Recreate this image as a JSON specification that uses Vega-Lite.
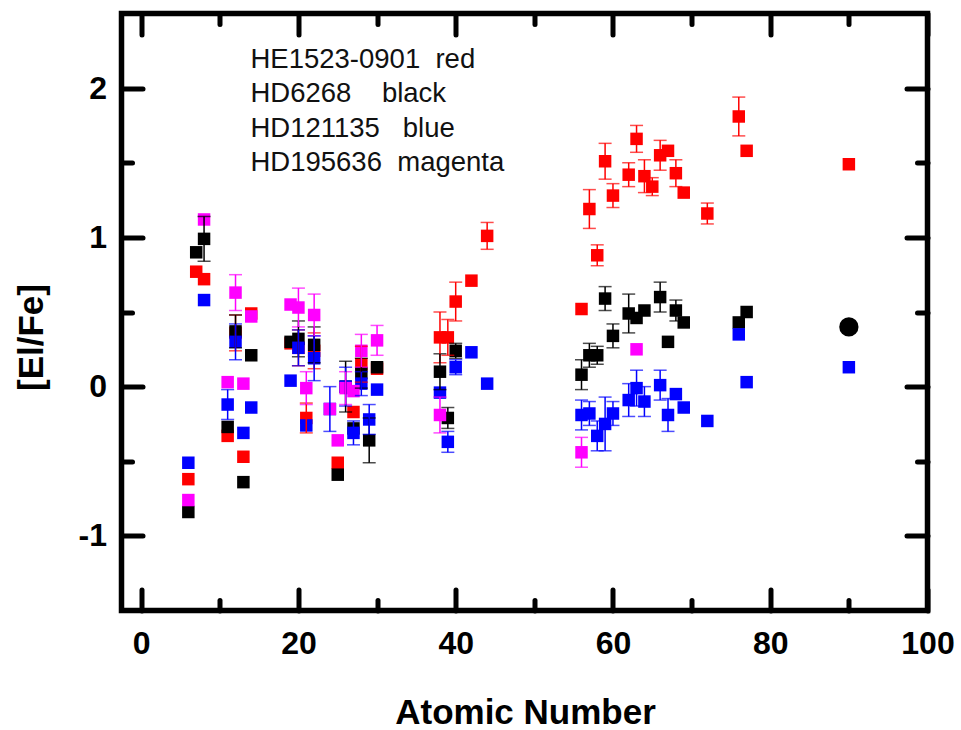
{
  "$schema": "https://vega.github.io/schema/vega-lite/v6.json",
  "autosize": {"type": "none"},
  "padding": {"left": 121.5, "top": 13.5, "right": 33.5, "bottom": 119.5},
  "width": 806,
  "height": 597,
  "config": {
    "view": {"stroke": "#000000", "strokeWidth": 5.5},
    "font": "Liberation Sans"
  },
  "datasets": {
    "abund": [
      {"star": "HE1523-0901", "z": 6, "v": -0.62},
      {"star": "HE1523-0901", "z": 7, "v": 0.77},
      {"star": "HE1523-0901", "z": 8, "v": 0.72},
      {"star": "HE1523-0901", "z": 11, "v": -0.33},
      {"star": "HE1523-0901", "z": 12, "v": 0.36, "e": 0.12},
      {"star": "HE1523-0901", "z": 13, "v": -0.47},
      {"star": "HE1523-0901", "z": 14, "v": 0.49},
      {"star": "HE1523-0901", "z": 19, "v": 0.29},
      {"star": "HE1523-0901", "z": 20, "v": 0.26, "e": 0.12},
      {"star": "HE1523-0901", "z": 21, "v": -0.21, "e": 0.1},
      {"star": "HE1523-0901", "z": 22, "v": 0.24, "e": 0.12},
      {"star": "HE1523-0901", "z": 25, "v": -0.51},
      {"star": "HE1523-0901", "z": 27, "v": -0.17},
      {"star": "HE1523-0901", "z": 28, "v": 0.15, "e": 0.12},
      {"star": "HE1523-0901", "z": 30, "v": 0.12},
      {"star": "HE1523-0901", "z": 38, "v": 0.33, "e": 0.17},
      {"star": "HE1523-0901", "z": 39, "v": 0.33, "e": 0.12},
      {"star": "HE1523-0901", "z": 40, "v": 0.57, "e": 0.13},
      {"star": "HE1523-0901", "z": 42, "v": 0.71},
      {"star": "HE1523-0901", "z": 44, "v": 1.01, "e": 0.09},
      {"star": "HE1523-0901", "z": 56, "v": 0.52},
      {"star": "HE1523-0901", "z": 57, "v": 1.19, "e": 0.13},
      {"star": "HE1523-0901", "z": 58, "v": 0.88, "e": 0.07},
      {"star": "HE1523-0901", "z": 59, "v": 1.51, "e": 0.12},
      {"star": "HE1523-0901", "z": 60, "v": 1.28, "e": 0.08},
      {"star": "HE1523-0901", "z": 62, "v": 1.42, "e": 0.08},
      {"star": "HE1523-0901", "z": 63, "v": 1.66, "e": 0.09},
      {"star": "HE1523-0901", "z": 64, "v": 1.41, "e": 0.11},
      {"star": "HE1523-0901", "z": 65, "v": 1.34, "e": 0.06},
      {"star": "HE1523-0901", "z": 66, "v": 1.55, "e": 0.1},
      {"star": "HE1523-0901", "z": 67, "v": 1.58},
      {"star": "HE1523-0901", "z": 68, "v": 1.43, "e": 0.09},
      {"star": "HE1523-0901", "z": 69, "v": 1.3},
      {"star": "HE1523-0901", "z": 72, "v": 1.16, "e": 0.07},
      {"star": "HE1523-0901", "z": 76, "v": 1.81, "e": 0.13},
      {"star": "HE1523-0901", "z": 77, "v": 1.58},
      {"star": "HE1523-0901", "z": 90, "v": 1.49},
      {"star": "HD6268", "z": 6, "v": -0.84},
      {"star": "HD6268", "z": 7, "v": 0.9},
      {"star": "HD6268", "z": 8, "v": 0.99, "e": 0.15},
      {"star": "HD6268", "z": 11, "v": -0.27},
      {"star": "HD6268", "z": 12, "v": 0.37, "e": 0.11},
      {"star": "HD6268", "z": 13, "v": -0.64},
      {"star": "HD6268", "z": 14, "v": 0.21},
      {"star": "HD6268", "z": 19, "v": 0.3},
      {"star": "HD6268", "z": 20, "v": 0.32, "e": 0.12},
      {"star": "HD6268", "z": 22, "v": 0.28, "e": 0.12},
      {"star": "HD6268", "z": 25, "v": -0.59},
      {"star": "HD6268", "z": 26, "v": 0.0, "e": 0.17},
      {"star": "HD6268", "z": 27, "v": -0.28},
      {"star": "HD6268", "z": 28, "v": 0.09, "e": 0.1},
      {"star": "HD6268", "z": 29, "v": -0.36, "e": 0.15},
      {"star": "HD6268", "z": 30, "v": 0.13},
      {"star": "HD6268", "z": 38, "v": 0.1, "e": 0.12},
      {"star": "HD6268", "z": 39, "v": -0.21, "e": 0.07},
      {"star": "HD6268", "z": 40, "v": 0.24, "e": 0.05},
      {"star": "HD6268", "z": 56, "v": 0.08, "e": 0.1},
      {"star": "HD6268", "z": 57, "v": 0.21, "e": 0.08},
      {"star": "HD6268", "z": 58, "v": 0.21, "e": 0.06},
      {"star": "HD6268", "z": 59, "v": 0.59, "e": 0.08},
      {"star": "HD6268", "z": 60, "v": 0.34, "e": 0.08},
      {"star": "HD6268", "z": 62, "v": 0.49, "e": 0.13},
      {"star": "HD6268", "z": 63, "v": 0.46},
      {"star": "HD6268", "z": 64, "v": 0.51},
      {"star": "HD6268", "z": 66, "v": 0.6, "e": 0.1},
      {"star": "HD6268", "z": 67, "v": 0.3},
      {"star": "HD6268", "z": 68, "v": 0.51, "e": 0.07},
      {"star": "HD6268", "z": 69, "v": 0.43},
      {"star": "HD6268", "z": 76, "v": 0.43},
      {"star": "HD6268", "z": 77, "v": 0.5},
      {"star": "HD6268", "z": 90, "v": 0.4},
      {"star": "HD121135", "z": 6, "v": -0.51},
      {"star": "HD121135", "z": 8, "v": 0.58},
      {"star": "HD121135", "z": 11, "v": -0.12, "e": 0.1},
      {"star": "HD121135", "z": 12, "v": 0.3, "e": 0.12},
      {"star": "HD121135", "z": 13, "v": -0.31},
      {"star": "HD121135", "z": 14, "v": -0.14},
      {"star": "HD121135", "z": 19, "v": 0.04},
      {"star": "HD121135", "z": 20, "v": 0.26, "e": 0.12},
      {"star": "HD121135", "z": 21, "v": -0.26},
      {"star": "HD121135", "z": 22, "v": 0.19, "e": 0.15},
      {"star": "HD121135", "z": 24, "v": -0.15, "e": 0.15},
      {"star": "HD121135", "z": 26, "v": 0.0, "e": 0.13},
      {"star": "HD121135", "z": 27, "v": -0.31, "e": 0.08},
      {"star": "HD121135", "z": 28, "v": 0.02, "e": 0.08},
      {"star": "HD121135", "z": 29, "v": -0.22, "e": 0.1},
      {"star": "HD121135", "z": 30, "v": -0.02},
      {"star": "HD121135", "z": 38, "v": -0.04},
      {"star": "HD121135", "z": 39, "v": -0.37, "e": 0.07},
      {"star": "HD121135", "z": 40, "v": 0.13, "e": 0.05},
      {"star": "HD121135", "z": 42, "v": 0.23},
      {"star": "HD121135", "z": 44, "v": 0.02},
      {"star": "HD121135", "z": 56, "v": -0.19, "e": 0.1},
      {"star": "HD121135", "z": 57, "v": -0.18, "e": 0.08},
      {"star": "HD121135", "z": 58, "v": -0.33, "e": 0.1},
      {"star": "HD121135", "z": 59, "v": -0.25, "e": 0.18},
      {"star": "HD121135", "z": 60, "v": -0.18, "e": 0.08},
      {"star": "HD121135", "z": 62, "v": -0.09, "e": 0.11},
      {"star": "HD121135", "z": 63, "v": -0.01, "e": 0.12},
      {"star": "HD121135", "z": 64, "v": -0.1, "e": 0.1},
      {"star": "HD121135", "z": 66, "v": 0.01, "e": 0.1},
      {"star": "HD121135", "z": 67, "v": -0.19, "e": 0.11},
      {"star": "HD121135", "z": 68, "v": -0.05},
      {"star": "HD121135", "z": 69, "v": -0.14},
      {"star": "HD121135", "z": 72, "v": -0.23},
      {"star": "HD121135", "z": 76, "v": 0.35},
      {"star": "HD121135", "z": 77, "v": 0.03},
      {"star": "HD121135", "z": 90, "v": 0.13},
      {"star": "HD195636", "z": 6, "v": -0.76},
      {"star": "HD195636", "z": 8, "v": 1.12},
      {"star": "HD195636", "z": 11, "v": 0.03},
      {"star": "HD195636", "z": 12, "v": 0.63, "e": 0.12},
      {"star": "HD195636", "z": 13, "v": 0.02},
      {"star": "HD195636", "z": 14, "v": 0.47},
      {"star": "HD195636", "z": 19, "v": 0.55},
      {"star": "HD195636", "z": 20, "v": 0.53, "e": 0.13},
      {"star": "HD195636", "z": 21, "v": -0.01, "e": 0.11},
      {"star": "HD195636", "z": 22, "v": 0.48, "e": 0.14},
      {"star": "HD195636", "z": 24, "v": -0.15},
      {"star": "HD195636", "z": 25, "v": -0.36},
      {"star": "HD195636", "z": 26, "v": -0.01, "e": 0.11},
      {"star": "HD195636", "z": 27, "v": -0.03},
      {"star": "HD195636", "z": 28, "v": 0.24, "e": 0.11},
      {"star": "HD195636", "z": 30, "v": 0.31, "e": 0.1},
      {"star": "HD195636", "z": 38, "v": -0.19, "e": 0.12},
      {"star": "HD195636", "z": 56, "v": -0.44, "e": 0.1},
      {"star": "HD195636", "z": 63, "v": 0.25}
    ],
    "notes": [
      {"label": "HE1523-0901\u00a0\u00a0red", "ly": 2.138},
      {"label": "HD6268\u00a0\u00a0\u00a0\u00a0black", "ly": 1.904},
      {"label": "HD121135\u00a0\u00a0\u00a0blue", "ly": 1.675},
      {"label": "HD195636\u00a0\u00a0magenta", "ly": 1.447}
    ]
  },
  "layer": [
    {
      "data": {"name": "abund"},
      "mark": {"type": "point", "filled": true, "opacity": 1, "strokeWidth": 0},
      "encoding": {
        "x": {
          "field": "z", "type": "quantitative",
          "scale": {"domain": [-2.5, 100], "nice": false, "zero": false},
          "axis": {
            "orient": "bottom",
            "values": [0, 10, 20, 30, 40, 50, 60, 70, 80, 90, 100],
            "labelExpr": "datum.value % 20 == 0 ? datum.label : ''",
            "tickSize": {"condition": {"test": "datum.value % 20 == 0", "value": -21}, "value": -10.5},
            "tickWidth": 5, "tickColor": "#000000", "tickCap": "round",
            "domain": false, "grid": false,
            "labelFont": "Liberation Sans", "labelFontWeight": "bold", "labelFontSize": 32,
            "labelColor": "#000000", "labelPadding": 39, "labelBaseline": "top", "labelFlush": false,
            "title": "Atomic Number",
            "titleFont": "Liberation Sans", "titleFontWeight": "bold", "titleFontSize": 35,
            "titleColor": "#000000", "titleBaseline": "alphabetic", "titleAlign": "center",
            "titleX": 403.5, "titleY": 112.5
          }
        },
        "y": {
          "field": "v", "type": "quantitative",
          "scale": {"domain": [-1.5, 2.5], "nice": false, "zero": false},
          "axis": {
            "orient": "left",
            "values": [-1, -0.5, 0, 0.5, 1, 1.5, 2],
            "labelExpr": "datum.value % 1 == 0 ? toString(datum.value) : ''",
            "tickSize": {"condition": {"test": "datum.value % 1 == 0", "value": -21}, "value": -10.5},
            "tickWidth": 5, "tickColor": "#000000", "tickCap": "round",
            "domain": false, "grid": false,
            "labelFont": "Liberation Sans", "labelFontWeight": "bold", "labelFontSize": 32,
            "labelColor": "#000000", "labelPadding": 36, "labelFlush": false,
            "title": "[El/Fe]",
            "titleFont": "Liberation Sans", "titleFontWeight": "bold", "titleFontSize": 35,
            "titleColor": "#000000", "titleAngle": -90, "titleBaseline": "alphabetic", "titleAlign": "center",
            "titleX": -78.8, "titleY": 323.5
          }
        },
        "color": {
          "field": "star", "type": "nominal",
          "scale": {"domain": ["HE1523-0901", "HD6268", "HD121135", "HD195636"], "range": ["#ff0000", "#000000", "#0000ff", "#ff00ff"]},
          "legend": null
        },
        "shape": {"condition": {"test": "datum.z == 90 && datum.star == 'HD6268'", "value": "circle"}, "value": "square"},
        "size": {"condition": {"test": "datum.z == 90 && datum.star == 'HD6268'", "value": 372}, "value": 156}
      }
    },
    {
      "data": {"name": "abund"},
      "transform": [{"filter": "datum.e > 0"}],
      "mark": {"type": "errorbar", "ticks": {"size": 13, "thickness": 1.5}, "rule": {"strokeWidth": 1.5}},
      "encoding": {
        "x": {"field": "z", "type": "quantitative", "scale": {"domain": [-2.5, 100], "nice": false, "zero": false}, "axis": null},
        "y": {"field": "v", "type": "quantitative", "scale": {"domain": [-1.5, 2.5], "nice": false, "zero": false}, "axis": null},
        "yError": {"field": "e"},
        "color": {
          "field": "star", "type": "nominal",
          "scale": {"domain": ["HE1523-0901", "HD6268", "HD121135", "HD195636"], "range": ["#ff0000", "#000000", "#0000ff", "#ff00ff"]},
          "legend": null
        }
      }
    },
    {
      "data": {"name": "notes"},
      "mark": {"type": "text", "align": "left", "baseline": "alphabetic", "font": "Liberation Sans", "fontSize": 27.5, "color": "#111111"},
      "encoding": {
        "x": {
          "datum": 13.9, "type": "quantitative",
          "scale": {"domain": [-2.5, 100], "nice": false, "zero": false},
          "axis": {
            "orient": "top", "values": [0, 10, 20, 30, 40, 50, 60, 70, 80, 90, 100],
            "labels": false, "title": null, "domain": false, "grid": false,
            "tickSize": {"condition": {"test": "datum.value % 20 == 0", "value": -21}, "value": -10.5},
            "tickWidth": 5, "tickColor": "#000000", "tickCap": "round"
          }
        },
        "y": {
          "field": "ly", "type": "quantitative",
          "scale": {"domain": [-1.5, 2.5], "nice": false, "zero": false},
          "axis": {
            "orient": "right", "values": [-1, -0.5, 0, 0.5, 1, 1.5, 2],
            "labels": false, "title": null, "domain": false, "grid": false,
            "tickSize": {"condition": {"test": "datum.value % 1 == 0", "value": -21}, "value": -10.5},
            "tickWidth": 5, "tickColor": "#000000", "tickCap": "round"
          }
        },
        "text": {"field": "label"}
      }
    }
  ],
  "resolve": {"axis": {"x": "independent", "y": "independent"}}
}
